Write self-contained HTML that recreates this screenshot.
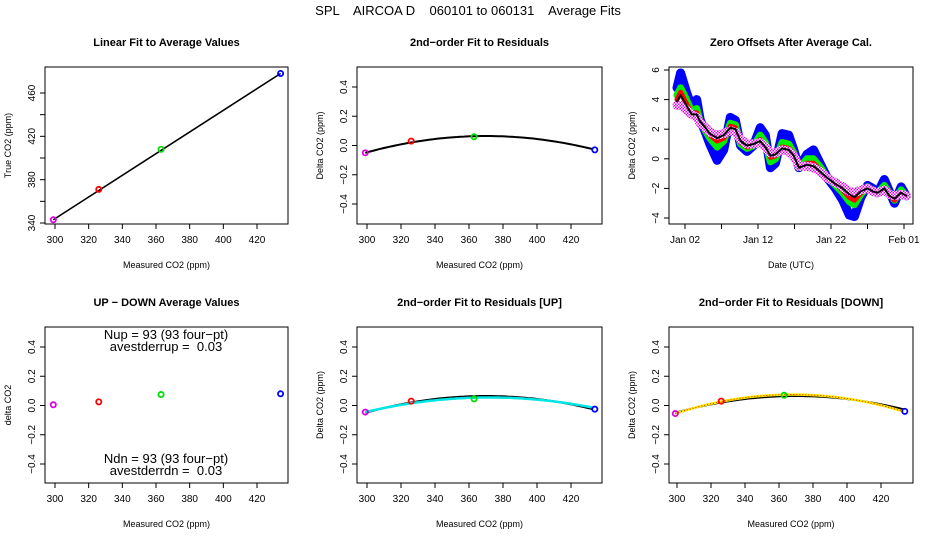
<!DOCTYPE html>
<html><head><meta charset="utf-8"><style>
body{margin:0;background:#fff}
svg{display:block;font-family:"Liberation Sans",sans-serif}
#mt{white-space:pre}
</style></head><body>
<svg id="c" width="936" height="540">
<defs>
<pattern id="chk" width="3" height="3" patternUnits="userSpaceOnUse"><rect width="3" height="3" fill="#e000e0"/><rect width="1.5" height="1.5" fill="#fff"/><rect x="1.5" y="1.5" width="1.5" height="1.5" fill="#fff"/></pattern>
</defs>
<text id="mt" x="468" y="15" text-anchor="middle" font-size="13" xml:space="preserve">SPL    AIRCOA D    060101 to 060131    Average Fits</text>
</svg>
<script>
// ---- data ----
const measured = [299, 326, 363, 434];
const pointColors = ['#e000e0', '#ff0000', '#00dd00', '#0000ff'];
const trueCO2 = [343, 371, 408, 478];
const resid = [-0.05, 0.03, 0.06, -0.03];
const residUp = [-0.045, 0.03, 0.045, -0.025];
const residDown = [-0.055, 0.03, 0.07, -0.04];
const upDown = [0.005, 0.025, 0.075, 0.08];
const fitPeak = [0.065, 0.055, 0.075];   // all, up, down
const fitCenter = [370, 372, 368];
const fitCurv = [2.28e-5, 1.88e-5, 2.73e-5];
const days = [0.9,1.4,2.2,2.9,3.6,4.1,4.8,5.4,6.4,7.3,8.2,8.9,9.6,10.5,11.4,12.3,13.0,13.7,14.4,15.3,16.2,16.9,17.6,18.7,19.6,20.6,21.5,22.6,23.6,24.5,25.2,26.1,27.0,27.7,28.4,29.3,30.0,30.7,31.6,32.3];
const zeroBlue = [4.8,5.8,4.5,3.5,4.0,2.6,1.8,1.0,-0.1,0.6,2.8,2.6,0.9,0.5,0.9,2.1,1.6,-0.6,-0.3,1.7,1.6,0.6,-0.6,0.3,0.6,-0.4,-1.3,-2.0,-2.8,-3.8,-3.9,-2.6,-1.8,-2.0,-2.3,-1.4,-2.2,-3.0,-1.9,-2.5];
const zeroGreen = [4.3,4.8,4.0,3.2,3.4,2.5,1.9,1.4,0.8,1.2,2.4,2.3,1.0,0.7,0.9,1.6,1.1,-0.2,0.0,1.1,1.0,0.4,-0.6,0.0,0.0,-0.6,-1.3,-1.8,-2.3,-2.9,-3.1,-2.4,-1.9,-2.1,-2.3,-1.8,-2.3,-2.8,-2.1,-2.5];
const zeroRed = [4.0,4.5,3.7,3.1,3.1,2.5,2.0,1.6,1.2,1.4,2.2,2.1,1.1,0.8,0.9,1.3,0.9,0.1,0.2,0.8,0.7,0.3,-0.6,-0.3,-0.3,-0.8,-1.3,-1.7,-2.1,-2.6,-2.8,-2.3,-2.0,-2.2,-2.3,-2.0,-2.5,-2.8,-2.3,-2.5];
const zeroMagenta = [3.6,3.6,3.3,3.0,2.8,2.4,2.1,1.8,1.6,1.7,1.9,1.8,1.3,1.0,1.0,1.1,0.8,0.4,0.4,0.6,0.5,0.2,-0.5,-0.5,-0.6,-0.9,-1.3,-1.6,-1.9,-2.2,-2.3,-2.1,-2.0,-2.2,-2.3,-2.1,-2.4,-2.5,-2.4,-2.5];
const zeroBlack = [3.9,4.3,3.6,3.0,3.0,2.5,2.1,1.7,1.4,1.6,2.1,2.0,1.2,0.9,1.0,1.2,0.8,0.2,0.3,0.7,0.6,0.2,-0.6,-0.4,-0.5,-0.9,-1.3,-1.7,-2.0,-2.4,-2.6,-2.2,-2.0,-2.2,-2.3,-2.0,-2.5,-2.7,-2.3,-2.5];
const co2Ticks = [300,320,340,360,380,400,420];
const trueTicks = [340,360,380,400,420,440,460];
const trueLabels = ['340','','380','','420','','460'];
const deltaTicks = [-0.4,-0.2,0,0.2,0.4];
const deltaLabels = ['\u22120.4','\u22120.2','0.0','0.2','0.4'];
const zeroTicks = [-4,-2,0,2,4,6];
const zeroLabels = ['\u22124','\u22122','0','2','4','6'];
const dayTicks = [2,7,12,17,22,27,32];
const dayLabels = ['Jan 02','','Jan 12','','Jan 22','','Feb 01'];

const svg = document.getElementById('c');
const NS = 'http://www.w3.org/2000/svg';
function mk(tag, attrs, parent){const e=document.createElementNS(NS,tag);for(const k in attrs)e.setAttribute(k,attrs[k]);(parent||svg).appendChild(e);return e;}
function lin(d0,d1,r0,r1){return v=>r0+(v-d0)*(r1-r0)/(d1-d0);}

function panel(o){
  const g=mk('g',{});
  
  
  const t=mk('text',{x:(o.L+o.R)/2,y:o.T-21,'text-anchor':'middle','font-size':11,'font-weight':'bold'},g);
  t.textContent=o.title;
  
  
  const b=mk('rect',{x:o.L,y:o.T,width:o.R-o.L,height:o.B-o.T,fill:'none',stroke:'#000','stroke-width':1},g);
  
  
  o.xt.forEach((v,i)=>{const x=o.xs(v);
    const tk=mk('line',{x1:x,x2:x,y1:o.B,y2:o.B+5,stroke:'#000'},g);
    
    
    if(o.xl[i]){const l=mk('text',{x:x,y:o.B+19,'text-anchor':'middle','font-size':10},g);l.textContent=o.xl[i];
      
      }
  });
  o.yt.forEach((v,i)=>{const y=o.ys(v);
    const tk=mk('line',{x1:o.L-5,x2:o.L,y1:y,y2:y,stroke:'#000'},g);
    
    
    if(o.yl[i]){const lx=o.L-10;const l=mk('text',{x:lx,y:y,'text-anchor':'middle','font-size':10,transform:`rotate(-90 ${lx} ${y})`},g);l.textContent=o.yl[i];
      
      }
  });
  const xt=mk('text',{x:(o.L+o.R)/2,y:o.B+44,'text-anchor':'middle','font-size':9},g);xt.textContent=o.xlab;
  
  
  const yx=o.L-34, yy=(o.T+o.B)/2;
  const yt=mk('text',{x:yx,y:yy,'text-anchor':'middle','font-size':9,transform:`rotate(-90 ${yx} ${yy})`},g);yt.textContent=o.ylab;
  
  
  return g;
}
function points(g,xs,ys,xv,yv){
  xv.forEach((v,i)=>{const c=mk('circle',{cx:xs(v),cy:ys(yv[i]),r:2.6,fill:'none',stroke:pointColors[i],'stroke-width':1.8},g);
    
    });
}
function curve(g,xs,ys,k,color,w,dash){
  let d='';for(let x=299;x<=434;x+=2){const y=fitPeak[k]-fitCurv[k]*(x-fitCenter[k])**2;d+=(d?'L':'M')+xs(x).toFixed(1)+','+ys(y).toFixed(1);}
  const p=mk('path',{d:d,fill:'none',stroke:color,'stroke-width':w},g);
  if(dash)p.setAttribute('stroke-dasharray',dash);
  
  
  return p;
}
const deltaY=(T)=>lin(-0.4,0.4,T+137,T+20);

// Panel 1
{const xs=lin(300,420,55,257), ys=lin(340,460,223,93);
 const g=panel({name:'linear-fit-panel',title:'Linear Fit to Average Values',L:45,R:288,T:67,B:224,xs,ys,xt:co2Ticks,xl:co2Ticks.map(String),yt:trueTicks,yl:trueLabels,xlab:'Measured CO2 (ppm)',ylab:'True CO2 (ppm)'});
 const n=measured.length-1;
 const ln=mk('line',{x1:xs(measured[0]),y1:ys(trueCO2[0]),x2:xs(measured[n]),y2:ys(trueCO2[n]),stroke:'#000','stroke-width':1.6},g);
 
 
 points(g,xs,ys,measured,trueCO2);}
// Panel 2
{const xs=lin(300,420,367,571), ys=deltaY(67);
 const g=panel({name:'residual-fit-panel',title:'2nd\u2212order Fit to Residuals',L:357,R:602,T:67,B:224,xs,ys,xt:co2Ticks,xl:co2Ticks.map(String),yt:deltaTicks,yl:deltaLabels,xlab:'Measured CO2 (ppm)',ylab:'Delta CO2 (ppm)'});
 curve(g,xs,ys,0,'#000',2);points(g,xs,ys,measured,resid);}
// Panel 3
{const xs=lin(2,32,685,904), ys=lin(-4,6,218,70);
 const g=panel({name:'zero-offsets-panel',title:'Zero Offsets After Average Cal.',L:669,R:913,T:67,B:224,xs,ys,xt:dayTicks,xl:dayLabels,yt:zeroTicks,yl:zeroLabels,xlab:'Date (UTC)',ylab:'Delta CO2 (ppm)'});
 const series=[[zeroBlue,'#0000ff',9,'blue-series'],[zeroGreen,'#00ee00',7,'green-series'],[zeroRed,'#ff0000',5,'red-series'],[zeroMagenta,'url(#chk)',9,'magenta-series'],[zeroBlack,'#000',2,'black-series']];
 series.forEach(s=>{let d='';days.forEach((dd,i)=>{d+=(i?'L':'M')+xs(dd).toFixed(1)+','+ys(s[0][i]).toFixed(1);});
   const p=mk('path',{d:d,fill:'none',stroke:s[1],'stroke-width':s[2],'stroke-linejoin':'round','stroke-linecap':'round'},g);
   
   });}
// Panel 4
{const xs=lin(300,420,55,257), ys=deltaY(327);
 const g=panel({name:'up-down-panel',title:'UP \u2212 DOWN Average Values',L:45,R:288,T:327,B:483,xs,ys,xt:co2Ticks,xl:co2Ticks.map(String),yt:deltaTicks,yl:deltaLabels,xlab:'Measured CO2 (ppm)',ylab:'delta CO2'});
 points(g,xs,ys,measured,upDown);
 [['Nup = 93 (93 four\u2212pt)',339,'nup-text'],['avestderrup =  0.03',351,'avestderrup-text'],['Ndn = 93 (93 four\u2212pt)',463,'ndn-text'],['avestderrdn =  0.03',475,'avestderrdn-text']].forEach(a=>{
   const t=mk('text',{x:166,y:a[1],'text-anchor':'middle','font-size':13,'xml:space':'preserve',style:'white-space:pre'},g);t.textContent=a[0];
   
   });}
// Panel 5
{const xs=lin(300,420,367,571), ys=deltaY(327);
 const g=panel({name:'residual-fit-up-panel',title:'2nd\u2212order Fit to Residuals [UP]',L:357,R:602,T:327,B:483,xs,ys,xt:co2Ticks,xl:co2Ticks.map(String),yt:deltaTicks,yl:deltaLabels,xlab:'Measured CO2 (ppm)',ylab:'Delta CO2 (ppm)'});
 curve(g,xs,ys,0,'#000',2);curve(g,xs,ys,1,'#00e5e5',2.5);points(g,xs,ys,measured,residUp);}
// Panel 6
{const xs=lin(300,420,677,881), ys=deltaY(327);
 const g=panel({name:'residual-fit-down-panel',title:'2nd\u2212order Fit to Residuals [DOWN]',L:669,R:913,T:327,B:483,xs,ys,xt:co2Ticks,xl:co2Ticks.map(String),yt:deltaTicks,yl:deltaLabels,xlab:'Measured CO2 (ppm)',ylab:'Delta CO2 (ppm)'});
 curve(g,xs,ys,0,'#000',2);curve(g,xs,ys,2,'#ffee00',2.5);curve(g,xs,ys,2,'#ff0000',1,'1 2');points(g,xs,ys,measured,residDown);}
</script>
</body></html>
